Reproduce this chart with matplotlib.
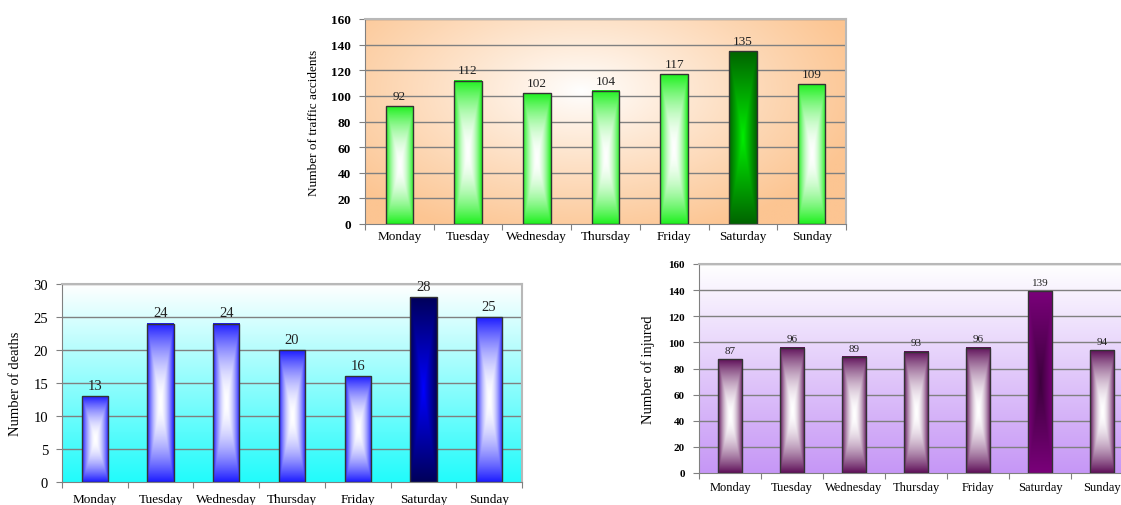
import numpy as np
import matplotlib
matplotlib.use("Agg")
import matplotlib.pyplot as plt

plt.rcParams['font.family'] = ['Liberation Serif', 'DejaVu Serif']

days = ['Monday', 'Tuesday', 'Wednesday', 'Thursday', 'Friday', 'Saturday', 'Sunday']
accidents = [92, 112, 102, 104, 117, 135, 109]
deaths = [13, 24, 24, 20, 16, 28, 25]
injured = [87, 96, 89, 93, 96, 139, 94]

acc_ticks = [0, 20, 40, 60, 80, 100, 120, 140, 160]
death_ticks = [0, 5, 10, 15, 20, 25, 30]
inj_ticks = [0, 20, 40, 60, 80, 100, 120, 140, 160]


def rgb(h):
    return np.array(matplotlib.colors.to_rgb(h))


def bar_fill(patch, ax, edge, center, power=1.3):
    # rectangular "from centre" gradient like the office charts
    x0, w, h = patch.get_x(), patch.get_width(), patch.get_height()
    dx = np.abs(np.linspace(-1, 1, 60))
    dy = np.abs(np.linspace(-1, 1, 300))
    m = np.maximum(dx[None, :], dy[:, None]) ** power
    img = center[None, None, :] * (1 - m[..., None]) + edge[None, None, :] * m[..., None]
    ax.imshow(img, extent=[x0, x0 + w, 0, h], aspect='auto', zorder=2,
              interpolation='bilinear', origin='lower')


def draw_chart(ax, vals, ticks, ylabel, normal, special, bg, fs):
    x = np.arange(len(vals))
    ax.imshow(bg, extent=[-0.5, len(vals) - 0.5, 0, ticks[-1]], aspect='auto',
              zorder=0, origin='lower', interpolation='bilinear')
    bars = ax.bar(x, vals, 0.4, facecolor='none', edgecolor='#333333', linewidth=1.0, zorder=3)
    for i, p in enumerate(bars.patches):
        if vals[i] == max(vals):
            bar_fill(p, ax, special[0], special[1], power=1.0)
        else:
            bar_fill(p, ax, normal, rgb('#ffffff'), power=1.8)
        ax.annotate(str(vals[i]), (x[i], vals[i]), xytext=(0, 3), textcoords='offset points',
                    ha='center', va='bottom', fontsize=fs['val'], color='#222222', zorder=5)
    ax.set_xlim(-0.5, len(vals) - 0.5)
    ax.set_ylim(0, ticks[-1])
    ax.set_yticks(ticks)
    ax.set_yticklabels([str(t) for t in ticks], fontsize=fs['ytick'], fontweight=fs['yw'])
    ax.set_xticks(np.arange(len(vals) + 1) - 0.5)
    ax.set_xticklabels([])
    ax.set_xticks(x, minor=True)
    ax.set_xticklabels(days, minor=True, fontsize=fs['xtick'])
    ax.tick_params(axis='x', which='major', length=4, color='#808080')
    ax.tick_params(axis='x', which='minor', length=0, pad=fs['pad'])
    ax.tick_params(axis='y', length=4, color='#808080', pad=6)
    for t in ticks[1:]:
        ax.axhline(t, color='#808080', linewidth=1.0, zorder=1)
    ax.set_ylabel(ylabel, fontsize=fs['ylab'], labelpad=fs['lp'])
    for s in ['left', 'bottom']:
        ax.spines[s].set_color('#808080')
    for s in ['top', 'right']:
        ax.spines[s].set_color('#b8b8b8')
        ax.spines[s].set_linewidth(1.5)


fig = plt.figure(figsize=(11.21, 5.06), dpi=100)

# top: accidents, orange radial background
gx = np.linspace(0, 1, 200)
gy = np.linspace(0, 1, 150)
r = np.sqrt(((gx[None, :] - 0.45) / 0.6) ** 2 + ((gy[:, None] - 0.65) / 0.75) ** 2)
r = np.clip(r, 0, 1) ** 0.9
peach = rgb('#fcc592')
bg1 = rgb('#ffffff')[None, None, :] * (1 - r[..., None]) + peach[None, None, :] * r[..., None]

ax1 = fig.add_axes([365 / 1121, 1 - 225 / 506, 481 / 1121, 205 / 506])
draw_chart(ax1, accidents, acc_ticks, 'Number of traffic accidents',
           rgb('#1ef01e'), (rgb('#006400'), rgb('#00ee00')), bg1,
           dict(val=9.5, ytick=9.5, yw='bold', xtick=9.5, ylab=9.5, lp=8, pad=4))

# bottom left: deaths, white to cyan
s = np.linspace(0, 1, 150)[:, None, None]
bg2 = np.repeat(s * rgb('#ffffff') + (1 - s) * rgb('#22fbfb'), 2, axis=1)
ax2 = fig.add_axes([62 / 1121, 1 - 483 / 506, 460 / 1121, 198 / 506])
draw_chart(ax2, deaths, death_ticks, 'Number of deaths',
           rgb('#1c1cff'), (rgb('#00005a'), rgb('#0000ff')), bg2,
           dict(val=10.5, ytick=10.5, yw='normal', xtick=9.5, ylab=10.5, lp=8, pad=8))

# bottom right: injured, white to lavender
bg3 = np.repeat(s * rgb('#ffffff') + (1 - s) * rgb('#c697f6'), 2, axis=1)
ax3 = fig.add_axes([699 / 1121, 1 - 474 / 506, 434 / 1121, 209 / 506])
draw_chart(ax3, injured, inj_ticks, 'Number of injured',
           rgb('#5e0f58'), (rgb('#7a007a'), rgb('#3c003c')), bg3,
           dict(val=8, ytick=8, yw='bold', xtick=9, ylab=10.5, lp=10, pad=6))

fig.savefig('out.png', dpi=100)
